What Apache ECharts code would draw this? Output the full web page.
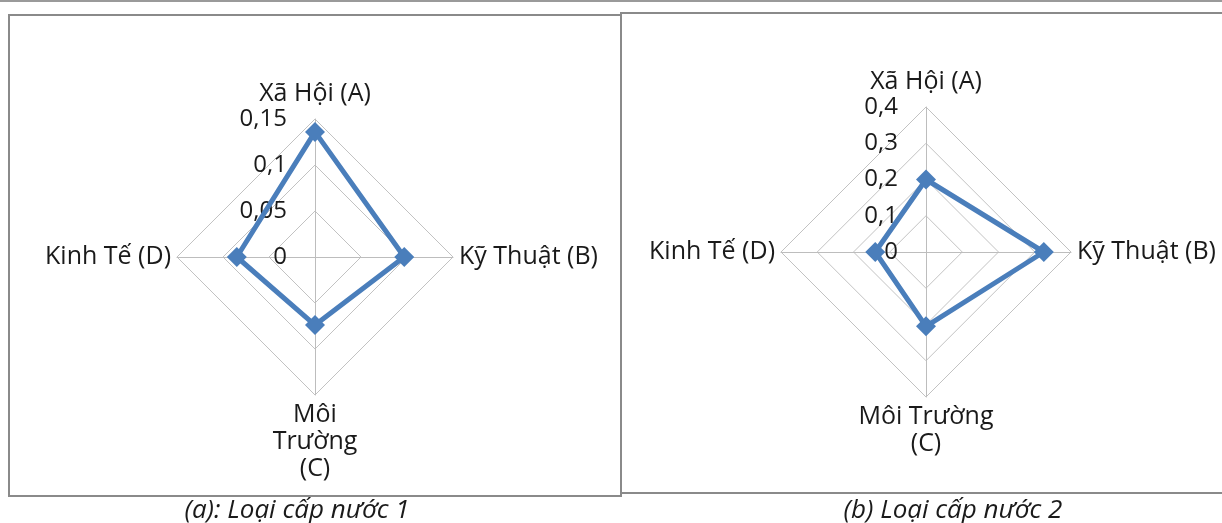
<!DOCTYPE html>
<html>
<head>
<meta charset="utf-8">
<script src="https://cdn.jsdelivr.net/npm/echarts@6/dist/echarts.min.js"></script>
<style>
  html, body { margin: 0; padding: 0; background: #fff; }
  #wrap { position: relative; width: 1222px; height: 523px; overflow: hidden; border-top: 2px solid #9a9a9a; box-sizing: border-box; }
  .box { position: absolute; border: 2px solid #8a8a8a; box-sizing: border-box; }
  #chart { position: absolute; left: 0; top: 0; width: 1222px; height: 523px; }
</style>
</head>
<body>
<div id="wrap">
  <div class="box" style="left:8px; top:12px; width:614px; height:483px;"></div>
  <div class="box" style="left:620px; top:10px; width:610px; height:482px;"></div>
  <div id="chart"></div>
</div>
<script>
// Categories in clockwise order from the top, as in the figure
const categories = ['Xã Hội (A)', 'Kỹ Thuật (B)', 'Môi Trường (C)', 'Kinh Tế (D)'];
const categoryLabelsA = ['Xã Hội (A)', 'Kỹ Thuật (B)', 'Môi\nTrường\n(C)', 'Kinh Tế (D)'];
const categoryLabelsB = ['Xã Hội (A)', 'Kỹ Thuật (B)', 'Môi Trường\n(C)', 'Kinh Tế (D)'];
const valuesA = [0.136, 0.097, 0.074, 0.085];
const valuesB = [0.200, 0.325, 0.205, 0.140];
const maxA = 0.15, splitA = 3;
const maxB = 0.4, splitB = 4;
const captionA = '(a): Loại cấp nước 1';
const captionB = '(b) Loại cấp nước 2';

// ECharts places indicators counter-clockwise; reorder to clockwise (A, D, C, B)
const order = [0, 3, 2, 1];
function indicators(labels, max) {
  return order.map((i, k) => ({
    name: labels[i], max: max, min: 0,
    axisLabel: { show: k === 0 }
  }));
}
const fmt = v => Number(Number(v).toFixed(4)).toString().replace('.', ',');
const nameStyle = { color: '#1a1a1a', fontFamily: 'Open Sans', fontSize: 25, lineHeight: 27 };
const labelStyle = { show: false, color: '#1a1a1a', fontFamily: 'Open Sans', fontSize: 24, margin: 28, formatter: fmt };

function radarCfg(center, radius, labels, max, split) {
  return {
    center: center, radius: radius, startAngle: 90, splitNumber: split, shape: 'polygon',
    indicator: indicators(labels, max),
    axisName: nameStyle, nameGap: 6,
    axisLine: { lineStyle: { color: '#bdbdbd', width: 1 } },
    splitLine: { lineStyle: { color: '#c2c2c2', width: 1 } },
    splitArea: { show: false },
    axisTick: { show: false },
    axisLabel: labelStyle
  };
}
function seriesCfg(idx, values) {
  return {
    type: 'radar', radarIndex: idx, silent: true,
    symbol: 'diamond', symbolSize: 20,
    lineStyle: { color: '#4a7ebb', width: 5 },
    itemStyle: { color: '#4a7ebb' },
    data: [{ value: order.map(i => values[i]) }]
  };
}

const chart = echarts.init(document.getElementById('chart'), null, { renderer: 'canvas' });
chart.setOption({
  animation: false,
  title: [
    { text: captionA, left: 292, top: 491, textAlign: 'center',
      textStyle: { fontFamily: 'Open Sans', fontStyle: 'italic', fontWeight: 'normal', fontSize: 26, color: '#1a1a1a' } },
    { text: captionB, left: 948, top: 491, textAlign: 'center',
      textStyle: { fontFamily: 'Open Sans', fontStyle: 'italic', fontWeight: 'normal', fontSize: 26, color: '#1a1a1a' } }
  ],
  radar: [
    radarCfg([315, 255], 138, categoryLabelsA, maxA, splitA),
    radarCfg([926, 250], 145, categoryLabelsB, maxB, splitB)
  ],
  series: [seriesCfg(0, valuesA), seriesCfg(1, valuesB)]
});
</script>
</body>
</html>
